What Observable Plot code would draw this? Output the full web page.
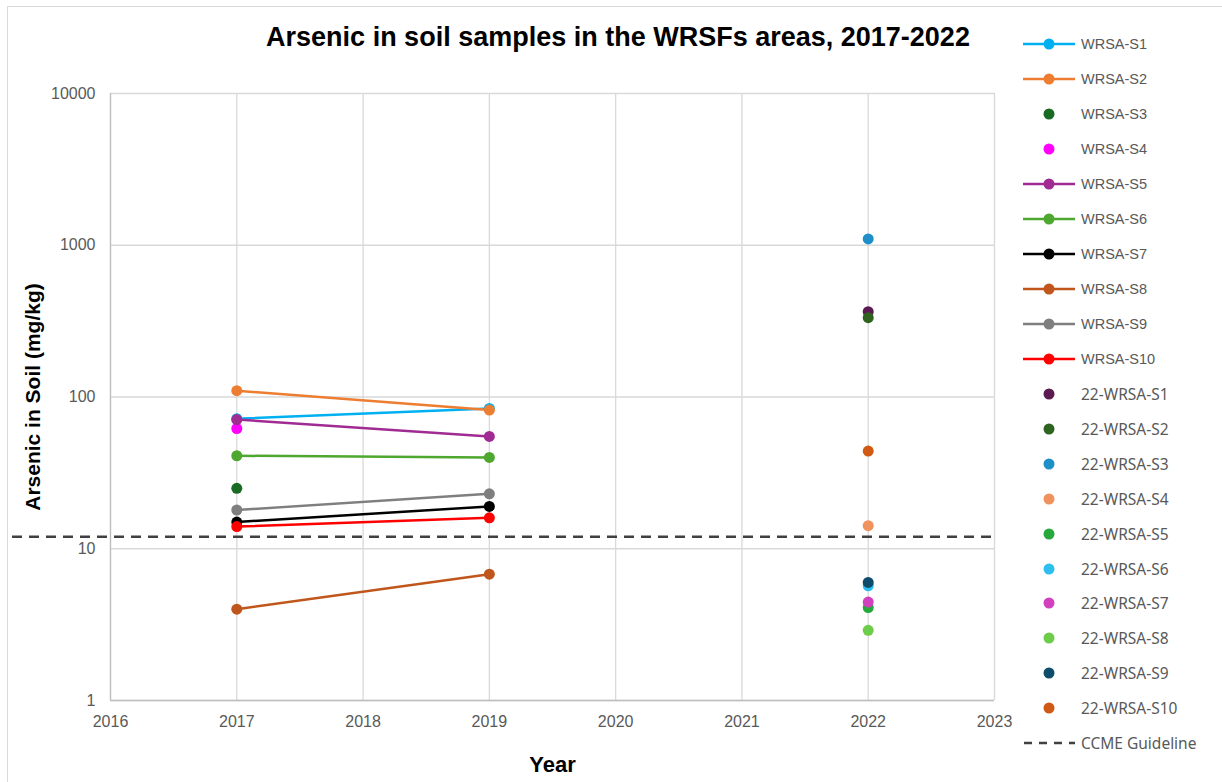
<!DOCTYPE html>
<html>
<head>
<meta charset="utf-8">
<script src="https://cdn.jsdelivr.net/npm/d3@7"></script>
<script src="https://cdn.jsdelivr.net/npm/@observablehq/plot@0.6"></script>
<style>
  body { margin: 0; background: #fff; font-family: "Liberation Sans", Arial, sans-serif; }
  #wrap { position: relative; width: 1222px; height: 782px; overflow: hidden; }
  #border { position: absolute; left: 7px; top: 6px; width: 1240px; height: 800px; border: 1.5px solid #d9d9d9; box-sizing: border-box; }
  #title { position: absolute; top: 20px; left: 0; width: 1236px; text-align: center; font-weight: bold; font-size: 27px; color: #000; line-height: 34px; }
  #chart { position: absolute; left: 0; top: 60px; }
  #legend { position: absolute; left: 1022px; top: 27px; }
  .row { height: 34.95px; display: flex; align-items: center; font-size: 14.5px; color: #595959; }
  .row svg { margin-right: 3px; }
  .row.alt { font-family: "Noto Sans", sans-serif; font-size: 15.5px; }
</style>
</head>
<body>
<div id="wrap">
  <div id="border"></div>
  <div id="title">Arsenic in soil samples in the WRSFs areas, 2017-2022</div>
  <div id="chart"></div>
  <div id="legend"></div>
</div>
<script>
// ---- data ----
const lineSeries = ["WRSA-S1","WRSA-S2","WRSA-S5","WRSA-S6","WRSA-S7","WRSA-S8","WRSA-S9","WRSA-S10"];
const allSeries = ["WRSA-S1","WRSA-S2","WRSA-S3","WRSA-S4","WRSA-S5","WRSA-S6","WRSA-S7","WRSA-S8","WRSA-S9","WRSA-S10",
  "22-WRSA-S1","22-WRSA-S2","22-WRSA-S3","22-WRSA-S4","22-WRSA-S5","22-WRSA-S6","22-WRSA-S7","22-WRSA-S8","22-WRSA-S9","22-WRSA-S10"];
const seriesColors = ["#00b0f0","#ed7d31","#196b24","#ff00ff","#a02b93","#4ea72e","#000000","#c0561b","#7f7f7f","#ff0000",
  "#5c1a52","#2f6420","#1f8fc8","#f0915e","#27a83d","#2ebef0","#d040bf","#6dcc4a","#0e4c6c","#d05a14"];
const years = [2017, 2019, 2022];
// values per series: [2017, 2019, 2022] (null = not sampled)
const v_S1  = [72, 84, null];
const v_S2  = [110, 82, null];
const v_S3  = [25, null, null];
const v_S4  = [62, null, null];
const v_S5  = [71, 55, null];
const v_S6  = [41, 40, null];
const v_S7  = [15, 19, null];
const v_S8  = [4.0, 6.8, null];
const v_S9  = [18, 23, null];
const v_S10 = [14, 16, null];
const v_22S1  = [null, null, 365];
const v_22S2  = [null, null, 333];
const v_22S3  = [null, null, 1100];
const v_22S4  = [null, null, 14.2];
const v_22S5  = [null, null, 4.1];
const v_22S6  = [null, null, 5.7];
const v_22S7  = [null, null, 4.45];
const v_22S8  = [null, null, 2.9];
const v_22S9  = [null, null, 6.0];
const v_22S10 = [null, null, 44];
const ccmeGuideline = 12;
const xTicks = [2016, 2017, 2018, 2019, 2020, 2021, 2022, 2023];
const yTicks = [1, 10, 100, 1000, 10000];

const valueArrays = [v_S1,v_S2,v_S3,v_S4,v_S5,v_S6,v_S7,v_S8,v_S9,v_S10,
  v_22S1,v_22S2,v_22S3,v_22S4,v_22S5,v_22S6,v_22S7,v_22S8,v_22S9,v_22S10];

const rows = [];
allSeries.forEach((s, i) => {
  valueArrays[i].forEach((v, j) => { if (v != null) rows.push({series: s, year: years[j], value: v}); });
});
const lineRows = rows.filter(d => lineSeries.includes(d.series));

const chart = Plot.plot({
  width: 1034,
  height: 720,
  marginLeft: 110,
  marginRight: 40,
  marginTop: 33,
  marginBottom: 80,
  style: { fontFamily: "'Liberation Sans', Arial, sans-serif", fontSize: "16px", color: "#595959", background: "transparent" },
  x: { domain: [2016, 2023], label: null },
  y: { type: "log", domain: [1, 10000], label: null },
  color: { domain: allSeries, range: seriesColors },
  marks: [
    Plot.ruleX(xTicks, { stroke: "#d9d9d9", strokeWidth: 1.3 }),
    Plot.ruleY(yTicks, { stroke: "#d9d9d9", strokeWidth: 1.3 }),
    Plot.ruleX([2016], { stroke: "#bfbfbf", strokeWidth: 1.3 }),
    Plot.ruleY([1], { stroke: "#bfbfbf", strokeWidth: 1.3 }),
    Plot.ruleY([ccmeGuideline], { stroke: "#404040", strokeWidth: 2.5, strokeDasharray: "10,7", insetLeft: -98 }),
    Plot.line(lineRows, { x: "year", y: "value", z: "series", stroke: "series", strokeWidth: 2.5 }),
    Plot.dot(rows, { x: "year", y: "value", fill: "series", r: 5.5 }),
    Plot.axisX({ ticks: xTicks, tickFormat: d => String(d), tickSize: 0, tickPadding: 15, label: null, fill: "#595959", fontSize: 16 }),
    Plot.axisY({ ticks: yTicks, tickFormat: d => String(d), tickSize: 0, tickPadding: 15, label: null, fill: "#595959", fontSize: 16 }),
    Plot.text(["Year"], { frameAnchor: "bottom", dy: 71, fontWeight: "bold", fontSize: 22, fill: "#000" }),
    Plot.text(["Arsenic in Soil (mg/kg)"], { frameAnchor: "left", dx: -77, rotate: -90, textAnchor: "middle", fontWeight: "bold", fontSize: 21, fill: "#000" })
  ]
});
document.getElementById("chart").appendChild(chart);

// ---- legend ----
const legend = document.getElementById("legend");
const ns = "http://www.w3.org/2000/svg";
allSeries.forEach((s, i) => {
  const row = document.createElement("div");
  row.className = "row" + (i >= 10 ? " alt" : "");
  const svg = document.createElementNS(ns, "svg");
  svg.setAttribute("width", 56); svg.setAttribute("height", 14);
  if (lineSeries.includes(s)) {
    const l = document.createElementNS(ns, "line");
    l.setAttribute("x1", 1); l.setAttribute("x2", 53); l.setAttribute("y1", 7); l.setAttribute("y2", 7);
    l.setAttribute("stroke", seriesColors[i]); l.setAttribute("stroke-width", 2.5);
    svg.appendChild(l);
  }
  const c = document.createElementNS(ns, "circle");
  c.setAttribute("cx", 27); c.setAttribute("cy", 7); c.setAttribute("r", 5.5);
  c.setAttribute("fill", seriesColors[i]);
  svg.appendChild(c);
  row.appendChild(svg);
  const t = document.createElement("span"); t.textContent = s;
  row.appendChild(t);
  legend.appendChild(row);
});
{
  const row = document.createElement("div");
  row.className = "row alt";
  const svg = document.createElementNS(ns, "svg");
  svg.setAttribute("width", 56); svg.setAttribute("height", 14);
  const l = document.createElementNS(ns, "line");
  l.setAttribute("x1", 2); l.setAttribute("x2", 53); l.setAttribute("y1", 7); l.setAttribute("y2", 7);
  l.setAttribute("stroke", "#404040"); l.setAttribute("stroke-width", 2.5); l.setAttribute("stroke-dasharray", "8,7");
  svg.appendChild(l);
  row.appendChild(svg);
  const t = document.createElement("span"); t.textContent = "CCME Guideline";
  row.appendChild(t);
  legend.appendChild(row);
}
</script>
</body>
</html>
